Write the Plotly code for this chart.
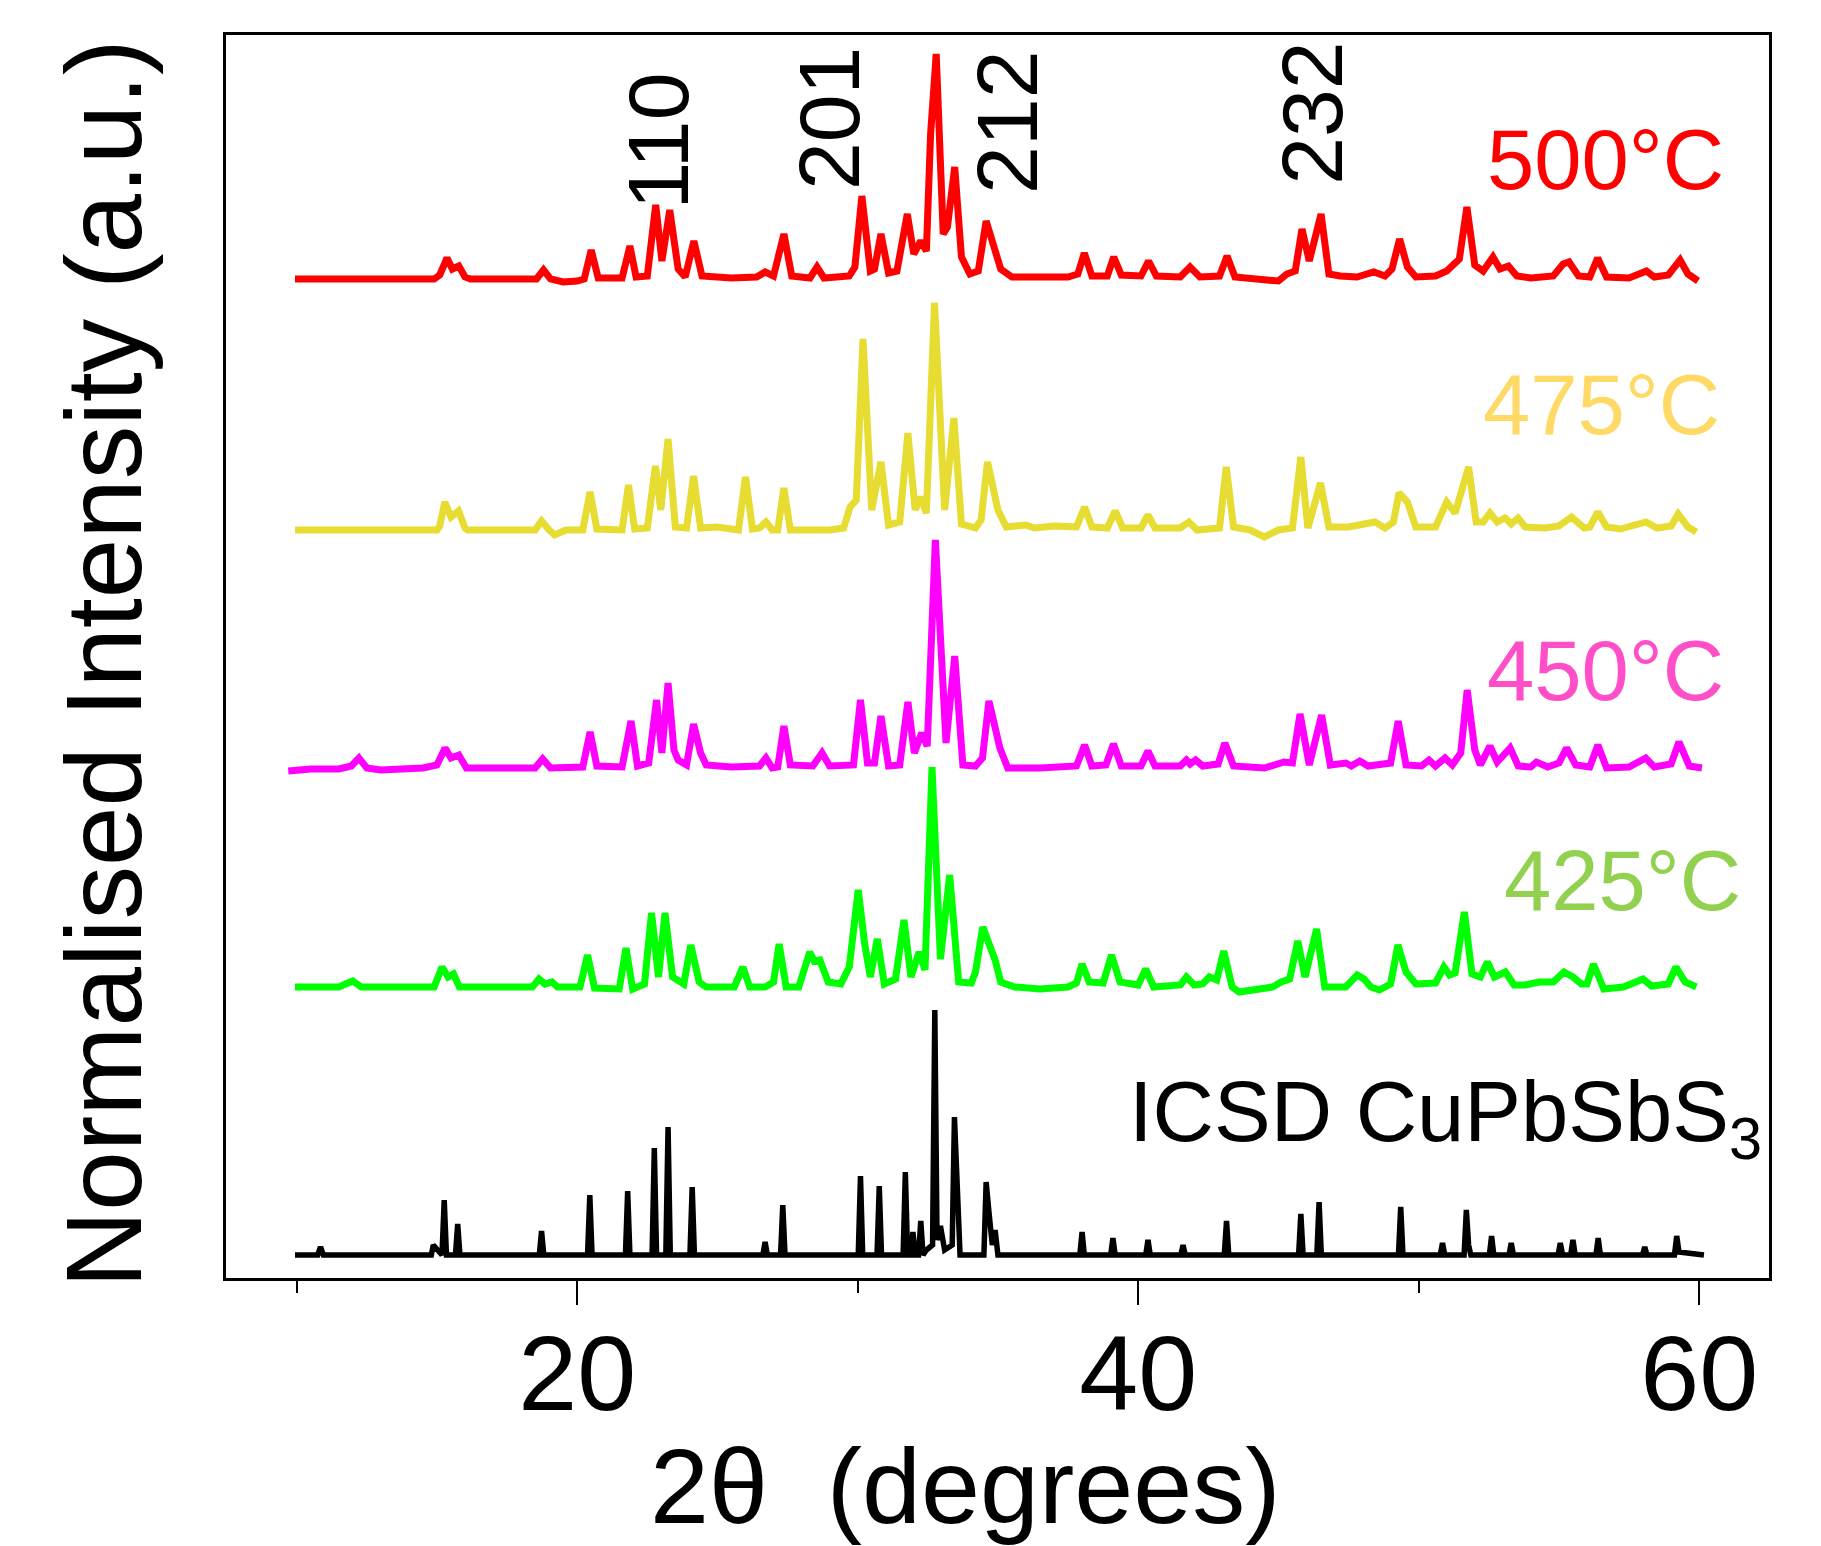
import plotly.graph_objects as go

# ---- data: (2theta in degrees, intensity in a.u. above the trace baseline) ----
pts_500 = [(9.94,0),(14.9,0),(15.1,4),(15.36,21),(15.55,10),(15.78,13),(16.0,2),(16.2,0),(18.55,0),(18.8,9),(19.05,0),
 (19.5,-3),(20.0,-2),(20.25,0),(20.5,29),(20.75,1),(21.6,1),(21.88,33),(22.1,2),(22.5,3),(22.8,74),(23.02,18),(23.3,69),
 (23.6,10),(23.85,2),(24.16,38),(24.45,3),(25.5,1),(26.4,2),(26.7,7),(27.0,3),(27.37,45),(27.65,3),(28.3,1),(28.55,12),
 (28.8,1),(29.7,3),(29.9,12),(30.15,83),(30.45,8),(30.6,10),(30.83,45),(31.1,6),(31.4,8),(31.77,65),(32.0,25),(32.25,38),
 (32.45,28),(32.6,145),(32.8,225),(33.05,45),(33.2,52),(33.46,112),(33.7,22),(34.0,5),(34.3,8),(34.58,58),(34.85,32),
 (35.1,10),(35.5,2),(36.5,2),(37.5,2),(37.85,5),(38.08,26),(38.35,3),(38.9,3),(39.13,22),(39.4,4),(40.1,3),(40.37,18),
 (40.65,3),(41.5,2),(41.85,12),(42.2,2),(42.9,3),(43.17,23),(43.45,2),(44.5,0),(45.0,-2),(45.3,5),(45.6,8),(45.84,50),
 (46.1,18),(46.52,65),(46.8,5),(47.2,3),(47.8,2),(48.4,7),(48.8,3),(49.05,10),(49.32,40),(49.6,12),(49.9,2),(50.6,3),
 (51.0,8),(51.45,20),(51.72,72),(52.0,14),(52.3,8),(52.65,22),(52.9,10),(53.2,13),(53.5,3),(54.0,1),(54.8,3),(55.15,15),
 (55.36,17),(55.7,3),(56.1,2),(56.38,21),(56.7,2),(57.5,1),(58.12,8),(58.4,2),(58.9,4),(59.32,19),(59.6,5),(59.96,-2)]

pts_475 = [(9.94,0),(15.0,0),(15.1,4),(15.28,28),(15.5,13),(15.77,19),(16.0,2),(16.1,0),(18.5,0),(18.73,9),(19.0,0),
 (19.2,-5),(19.6,0),(20.2,0),(20.46,38),(20.7,1),(21.6,0),(21.83,45),(22.05,1),(22.5,2),(22.79,64),(22.98,20),(23.24,91),
 (23.5,3),(23.9,2),(24.15,54),(24.4,2),(25.0,3),(25.75,0),(26.0,53),(26.25,1),(26.5,2),(26.73,8),(26.95,0),(27.15,0),
 (27.37,42),(27.6,0),(29.0,0),(29.5,2),(29.73,23),(29.95,30),(30.19,191),(30.5,20),(30.83,68),(31.1,5),(31.5,8),(31.79,97),
 (32.05,20),(32.24,33),(32.45,17),(32.74,227),(33.1,20),(33.43,112),(33.7,6),(34.2,2),(34.4,10),(34.63,68),(35.0,20),
 (35.3,3),(36.0,5),(36.3,2),(37.0,4),(37.8,3),(38.09,23),(38.35,3),(38.9,2),(39.18,19),(39.45,2),(40.1,2),(40.35,15),
 (40.6,2),(41.5,2),(41.81,8),(42.1,0),(42.5,1),(42.9,2),(43.14,63),(43.4,3),(44.0,0),(44.5,-7),(45.0,0),(45.5,2),(45.8,73),
 (46.05,2),(46.5,47),(46.8,3),(47.5,3),(48.44,8),(48.8,2),(49.1,8),(49.3,37),(49.6,28),(49.9,3),(50.6,3),(51.0,28),
 (51.3,17),(51.78,63),(52.05,8),(52.3,8),(52.54,17),(52.8,8),(53.08,12),(53.3,6),(53.54,12),(53.8,3),(54.5,2),(55.0,4),
 (55.45,13),(55.9,2),(56.1,3),(56.39,18),(56.7,3),(57.2,1),(58.1,8),(58.5,2),(59.0,4),(59.25,16),(59.6,3),(59.9,-2)]

pts_450 = [(9.7,-3),(10.5,-1),(11.5,-1),(11.95,2),(12.22,10),(12.5,0),(13.0,-2),(14.5,0),(15.0,3),(15.29,20),(15.5,10),
 (15.78,13),(16.05,0),(18.5,0),(18.77,9),(19.05,0),(20.2,1),(20.46,36),(20.7,2),(21.6,1),(21.92,47),(22.15,2),(22.55,5),
 (22.83,68),(23.02,15),(23.24,85),(23.45,18),(23.6,8),(23.9,3),(24.15,44),(24.4,15),(24.6,3),(25.5,1),(26.5,2),(26.73,10),
 (26.95,0),(27.15,1),(27.37,42),(27.6,3),(28.4,2),(28.73,15),(29.0,2),(29.85,3),(30.1,68),(30.35,5),(30.6,5),(30.83,52),
 (31.1,2),(31.5,3),(31.79,66),(32.02,15),(32.28,35),(32.48,22),(32.77,228),(33.15,25),(33.46,112),(33.75,3),(34.2,2),
 (34.45,10),(34.68,67),(35.07,20),(35.35,0),(36.5,0),(37.8,2),(38.09,23),(38.35,2),(38.85,3),(39.12,24),(39.4,2),(40.1,2),
 (40.35,17),(40.6,2),(41.5,2),(41.72,8),(41.85,4),(42.05,8),(42.3,2),(42.85,4),(43.09,25),(43.4,2),(44.5,0),(45.2,6),
 (45.5,5),(45.77,54),(46.1,3),(46.54,53),(46.85,3),(47.4,5),(47.6,2),(47.9,7),(48.2,2),(49.0,5),(49.27,47),(49.55,3),
 (50.1,2),(50.37,8),(50.6,2),(50.94,10),(51.2,3),(51.5,15),(51.73,78),(52.0,18),(52.2,3),(52.54,22),(52.8,6),(53.26,20),
 (53.55,2),(54.0,1),(54.2,6),(54.6,1),(55.0,5),(55.27,20),(55.6,3),(56.1,1),(56.39,23),(56.7,0),(57.5,1),(58.09,10),
 (58.4,1),(59.0,4),(59.28,26),(59.65,2),(60.1,0)]

pts_425 = [(9.94,0),(11.5,0),(12.0,6),(12.3,0),(14.9,0),(15.18,20),(15.4,10),(15.59,13),(15.8,0),(18.4,0),(18.64,8),
 (18.85,3),(19.1,5),(19.3,0),(20.1,0),(20.37,32),(20.62,-1),(21.5,-2),(21.74,39),(21.98,-2),(22.4,3),(22.65,74),(22.9,10),
 (23.13,74),(23.4,10),(23.8,3),(24.05,42),(24.35,5),(24.6,0),(25.6,0),(25.91,20),(26.15,0),(26.7,0),(27.0,5),(27.2,43),
 (27.45,0),(27.9,0),(28.29,35),(28.45,26),(28.65,27),(28.95,5),(29.4,3),(29.7,20),(30.02,97),(30.25,43),(30.45,10),
 (30.7,48),(30.95,3),(31.35,8),(31.65,67),(31.9,10),(32.19,35),(32.4,17),(32.65,220),(32.95,28),(33.28,112),(33.6,5),
 (34.05,4),(34.2,15),(34.46,60),(34.9,27),(35.1,5),(35.6,0),(36.5,-2),(37.5,0),(37.8,4),(38.0,23),(38.25,5),(38.75,4),
 (39.05,32),(39.35,5),(40.0,2),(40.27,18),(40.55,0),(41.5,2),(41.72,10),(42.0,2),(42.3,3),(42.54,10),(42.8,7),(43.05,36),
 (43.35,0),(43.6,-5),(44.3,-3),(44.8,0),(45.1,5),(45.4,8),(45.69,46),(45.95,10),(46.36,58),(46.65,0),(47.4,0),(47.81,12),
 (48.05,8),(48.3,0),(48.6,-3),(49.0,3),(49.26,42),(49.55,15),(49.9,3),(50.6,4),(50.9,20),(51.1,12),(51.3,14),(51.63,75),
 (51.9,13),(52.2,10),(52.45,25),(52.7,10),(53.09,15),(53.4,2),(53.8,2),(54.3,5),(54.8,5),(55.18,15),(55.5,10),(55.8,3),
 (56.0,3),(56.23,23),(56.6,-2),(57.3,0),(58.0,8),(58.3,1),(58.9,3),(59.17,20),(59.5,5),(59.9,0)]

pts_icsd = [(9.94,0),(10.75,0),(10.85,8),(10.95,0),(14.8,0),(14.87,10),(15.18,0),(15.26,55),(15.34,0),(15.66,0),(15.74,31),
 (15.82,0),(18.65,0),(18.73,24),(18.81,0),(20.37,0),(20.45,60),(20.53,0),(21.72,0),(21.8,64),(21.88,0),(22.67,0),(22.75,107),
 (22.83,0),(23.16,0),(23.24,128),(23.32,0),(24.02,0),(24.1,68),(24.18,0),(26.62,0),(26.7,13),(26.78,0),(27.25,0),(27.33,50),
 (27.41,0),(30.02,0),(30.1,79),(30.18,0),(30.69,0),(30.77,69),(30.85,0),(31.62,0),(31.7,83),(31.78,0),(31.9,0),(31.97,23),
 (32.05,0),(32.17,0),(32.25,34),(32.33,0),(32.45,5),(32.67,10),(32.75,245),(32.83,15),(32.95,29),(33.1,5),(33.37,10),
 (33.45,138),(33.55,76),(33.65,0),(34.5,0),(34.58,73),(34.68,43),(34.8,10),(34.9,25),(35.0,0),(37.92,0),(38.0,23),(38.08,0),
 (39.02,0),(39.1,17),(39.18,0),(40.27,0),(40.35,15),(40.43,0),(41.52,0),(41.6,10),(41.68,0),(43.07,0),(43.15,34),(43.23,0),
 (45.72,0),(45.8,41),(45.88,0),(46.37,0),(46.45,53),(46.53,0),(49.28,0),(49.36,48),(49.44,0),(50.77,0),(50.85,12),(50.93,0),
 (51.62,0),(51.7,45),(51.78,10),(51.86,0),(52.52,0),(52.6,19),(52.68,0),(53.22,0),(53.3,12),(53.38,0),(54.97,0),(55.05,12),
 (55.13,0),(55.42,0),(55.5,15),(55.58,0),(56.32,0),(56.4,17),(56.48,0),(57.98,0),(58.06,8),(58.14,0),(59.12,0),(59.2,19),
 (59.28,3),(60.17,0)]

series_names = ["ICSD CuPbSbS<sub>3</sub>", "425°C", "450°C", "475°C", "500°C"]
series_pts = [pts_icsd, pts_425, pts_450, pts_475, pts_500]

peak_labels = ["110", "201", "212", "232"]
peak_label_pos = [22.85, 28.98, 35.32, 46.19]

x_ticks = [20, 40, 60]
x_minor_ticks = [10, 30, 50]

# ---- styling / positions ----
line_colors = ["#000000", "#00FF00", "#FF00FF", "#E6DC32", "#FF0000"]
label_colors = ["#000000", "#92D050", "#FF4FC8", "#FFD966", "#FF0000"]
line_widths = [5.5, 7, 7, 7, 7]
offsets = [23, 291, 510, 748, 999]
label_x = [62.3, 61.55, 60.97, 60.8, 60.97]
label_y = [160, 398, 608, 874, 1119]
peak_label_y = [1066, 1086, 1082, 1091]

FONT = "Liberation Sans, Arial, Helvetica, sans-serif"

fig = go.Figure()
for name, pts, col, lw, off in zip(series_names, series_pts, line_colors, line_widths, offsets):
    xs = [p[0] for p in pts]
    ys = [p[1] + off for p in pts]
    fig.add_trace(go.Scatter(x=xs, y=ys, mode="lines", name=name,
                             line=dict(color=col, width=lw, shape="linear"),
                             showlegend=False, hoverinfo="skip"))

annotations = []
for name, col, lx, ly in zip(series_names, label_colors, label_x, label_y):
    annotations.append(dict(x=lx, y=ly, xref="x", yref="y", text=name, showarrow=False,
                            xanchor="right", yanchor="middle",
                            font=dict(family=FONT, size=85, color=col)))
for txt, px, py in zip(peak_labels, peak_label_pos, peak_label_y):
    annotations.append(dict(x=px, y=py, xref="x", yref="y", text=txt, showarrow=False,
                            textangle=-90, xanchor="center", yanchor="bottom",
                            font=dict(family=FONT, size=86, color="black")))
# axis titles
annotations.append(dict(x=-0.079, y=0.494, xref="paper", yref="paper",
                        text="Normalised Intensity (a.u.)", showarrow=False, textangle=-90,
                        xanchor="center", yanchor="middle",
                        font=dict(family=FONT, size=107, color="black")))
annotations.append(dict(x=0.479, y=-0.167, xref="paper", yref="paper",
                        text="2θ\u00a0\u00a0(degrees)", showarrow=False,
                        xanchor="center", yanchor="middle",
                        font=dict(family=FONT, size=106, color="black")))

fig.update_layout(
    width=1821, height=1546,
    margin=dict(l=226, r=52, t=35, b=268),
    paper_bgcolor="white", plot_bgcolor="white",
    annotations=annotations,
    font=dict(family=FONT, color="black"),
)
fig.update_xaxes(range=[7.48, 62.49], showline=True, mirror=True, linecolor="black", linewidth=3,
                 showgrid=False, zeroline=False,
                 tickmode="array", tickvals=x_ticks, ticktext=[str(v) for v in x_ticks],
                 ticks="outside", ticklen=24, tickwidth=2, tickcolor="black",
                 ticklabelstandoff=-22,
                 tickfont=dict(family=FONT, size=106, color="black"),
                 minor=dict(tickmode="array", tickvals=x_minor_ticks, ticks="outside",
                            ticklen=12, tickwidth=2, tickcolor="black"))
fig.update_yaxes(range=[0, 1243], showline=True, mirror=True, linecolor="black", linewidth=3,
                 showgrid=False, zeroline=False, showticklabels=False, ticks="")

fig.write_html("out.html", config={"displayModeBar": False},
               post_script="document.body.style.margin='0px';document.body.style.overflow='hidden';")
